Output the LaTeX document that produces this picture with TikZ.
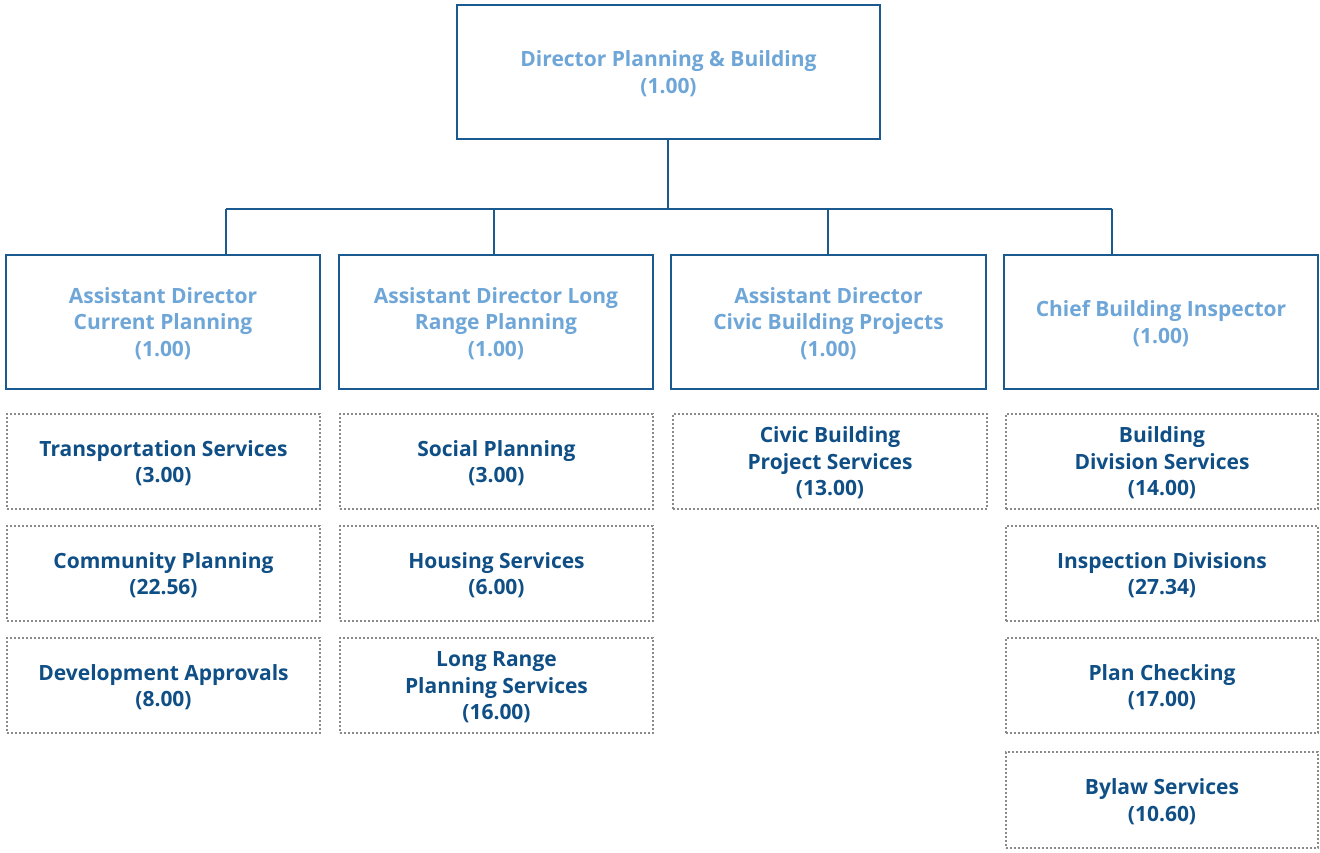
\documentclass[tikz,border=0pt]{standalone}
\usepackage{fontspec}
\setmainfont{Open Sans}
\definecolor{bordblue}{HTML}{1B5A8E}
\definecolor{lightblue}{HTML}{6FA6D8}
\definecolor{darkblue}{HTML}{0F4F86}
\definecolor{dotgray}{HTML}{8A8A8A}
\begin{document}
\begin{tikzpicture}[x=1pt,y=-1pt,
  headbox/.style={draw=bordblue,line width=2.5pt,fill=white,inner sep=0pt,align=center,text depth=0pt,
    text=lightblue,font=\fontsize{21}{26.5}\selectfont\bfseries},
  unitbox/.style={draw=dotgray,line width=2pt,dash pattern=on 1.6pt off 2.4pt,inner sep=0pt,align=center,text depth=0pt,
    text=darkblue,font=\fontsize{21}{26.5}\selectfont\bfseries,minimum width=313pt,minimum height=95pt},
  link/.style={draw=bordblue,line width=2.5pt}]
\useasboundingbox (0,0) rectangle (1320,852);
% top
\node[headbox,minimum width=423pt,minimum height=134pt] (dir) at (668.5,72) {Director Planning \& Building\\(1.00)};
% level 2
\node[headbox,minimum width=314pt,minimum height=134pt] (ad1) at (163,322) {Assistant Director\\Current Planning\\(1.00)};
\node[headbox,minimum width=314pt,minimum height=134pt] (ad2) at (496,322) {Assistant Director Long\\Range Planning\\(1.00)};
\node[headbox,minimum width=315pt,minimum height=134pt] (ad3) at (828.5,322) {Assistant Director\\Civic Building Projects\\(1.00)};
\node[headbox,minimum width=314pt,minimum height=134pt] (ad4) at (1161,322) {Chief Building Inspector\\(1.00)};
% junctions
\coordinate (jt) at (668,209);
\coordinate (j1) at (226,209);
\coordinate (j2) at (494,209);
\coordinate (j3) at (828,209);
\coordinate (j4) at (1112,209);
\draw[link] (dir.south -| jt) -- (jt);
\draw[link] (j1) -- (j4);
\draw[link] (j1) -- (j1 |- ad1.north);
\draw[link] (j2) -- (j2 |- ad2.north);
\draw[link] (j3) -- (j3 |- ad3.north);
\draw[link] (j4) -- (j4 |- ad4.north);
% units column 1
\node[unitbox] (u11) at (163.5,461.5) {Transportation Services\\(3.00)};
\node[unitbox] (u12) at (163.5,573.5) {Community Planning\\(22.56)};
\node[unitbox] (u13) at (163.5,685.5) {Development Approvals\\(8.00)};
% column 2
\node[unitbox] (u21) at (496.5,461.5) {Social Planning\\(3.00)};
\node[unitbox] (u22) at (496.5,573.5) {Housing Services\\(6.00)};
\node[unitbox] (u23) at (496.5,685.5) {Long Range\\Planning Services\\(16.00)};
% column 3
\node[unitbox,minimum width=314pt] (u31) at (830,461.5) {Civic Building\\Project Services\\(13.00)};
% column 4
\node[unitbox,minimum width=312pt] (u41) at (1162,461.5) {Building\\Division Services\\(14.00)};
\node[unitbox,minimum width=312pt] (u42) at (1162,573.5) {Inspection Divisions\\(27.34)};
\node[unitbox,minimum width=312pt] (u43) at (1162,685.5) {Plan Checking\\(17.00)};
\node[unitbox,minimum width=312pt,minimum height=96pt] (u44) at (1162,800) {Bylaw Services\\(10.60)};
\end{tikzpicture}
\end{document}
